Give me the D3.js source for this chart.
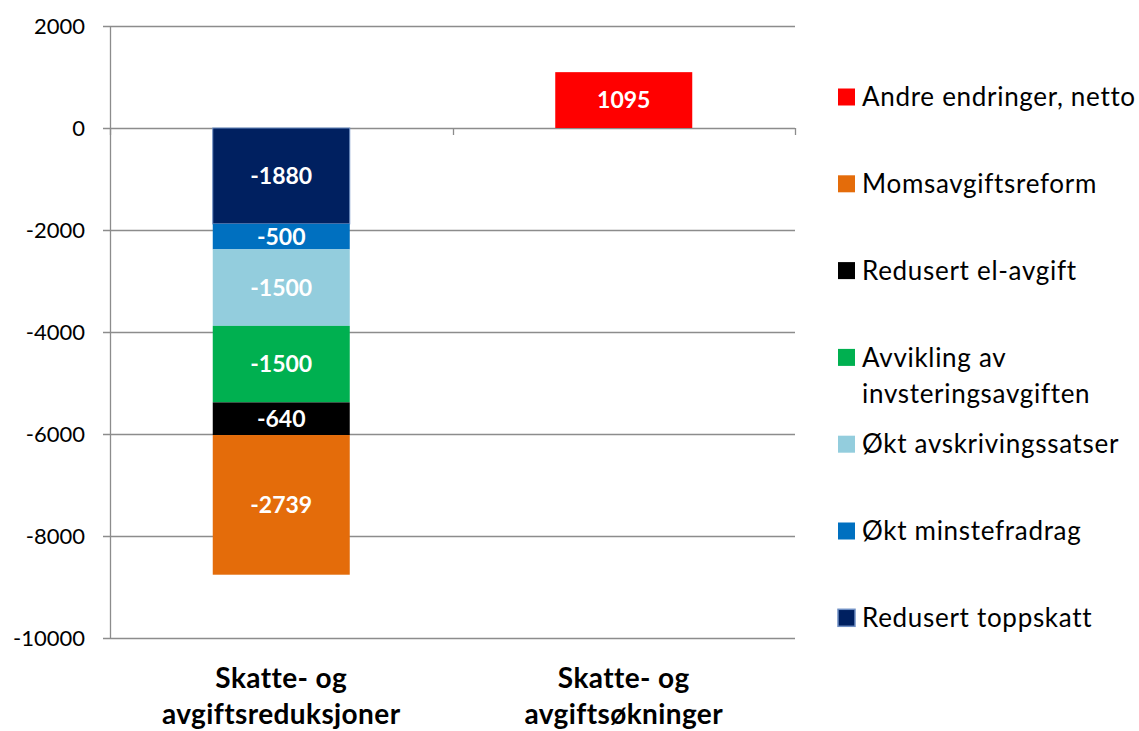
<!DOCTYPE html>
<html>
<head>
<meta charset="utf-8">
<script src="https://cdn.jsdelivr.net/npm/d3@7"></script>
<style>
  body { margin: 0; background: #fff; }
  svg { font-family: Lato, "Open Sans", sans-serif; }
</style>
</head>
<body>
<main></main>
<script>
// categories on the x axis
const categories = ["Skatte- og|avgiftsreduksjoner", "Skatte- og|avgiftsøkninger"];

// series, stacked from zero outward (first = closest to zero)
const seriesNames = [
  "Redusert toppskatt",
  "Økt minstefradrag",
  "Økt avskrivingssatser",
  "Avvikling av|invsteringsavgiften",
  "Redusert el-avgift",
  "Momsavgiftsreform",
  "Andre endringer, netto"
];
const seriesColors = ["#002060", "#0070C0", "#93CDDD", "#00B050", "#000000", "#E46C0A", "#FF0000"];

// values per series: [reduksjoner, økninger]
const values = [
  [-1880, 0],
  [-500, 0],
  [-1500, 0],
  [-1500, 0],
  [-640, 0],
  [-2739, 0],
  [0, 1095]
];

const yTicks = [2000, 0, -2000, -4000, -6000, -8000, -10000];

const width = 1139, height = 731;
const plot = { left: 110, right: 795, top: 26, bottom: 638 };

// build table for d3.stack
const table = categories.map((c, i) => {
  const row = { cat: c };
  seriesNames.forEach((s, j) => (row[s] = values[j][i]));
  return row;
});

const stacked = d3
  .stack()
  .keys(seriesNames)
  .offset(d3.stackOffsetDiverging)(table);

const svg = d3
  .select("main")
  .append("svg")
  .attr("width", width)
  .attr("height", height);

const yScale = d3.scaleLinear().domain([-10000, 2000]).range([plot.bottom, plot.top]);
const xScale = d3
  .scaleBand()
  .domain(categories)
  .range([plot.left, plot.right])
  .paddingInner(0.6)
  .paddingOuter(0.3);

// gridlines
svg
  .append("g")
  .selectAll("line")
  .data(yTicks)
  .enter()
  .append("line")
  .attr("x1", plot.left - 7)
  .attr("x2", plot.right)
  .attr("y1", d => Math.round(yScale(d)) + 0.5)
  .attr("y2", d => Math.round(yScale(d)) + 0.5)
  .style("stroke", "#8c8c8c")
  .style("stroke-width", 1.3);

// y axis line
svg
  .append("line")
  .attr("x1", plot.left + 0.5)
  .attr("x2", plot.left + 0.5)
  .attr("y1", yScale(2000))
  .attr("y2", yScale(-10000))
  .style("stroke", "#8c8c8c")
  .style("stroke-width", 1.3);

// y tick labels
svg
  .append("g")
  .selectAll("text")
  .data(yTicks)
  .enter()
  .append("text")
  .attr("x", 85)
  .attr("y", d => yScale(d))
  .attr("dy", "0.35em")
  .attr("text-anchor", "end")
  .style("font-size", "22px")
  .style("fill", "#000")
  .text(d => d3.format("d")(d).replace("−", "-"));

// category tick marks on the zero line
const catEdges = [plot.left, plot.left + (plot.right - plot.left) / 2, plot.right];
svg
  .append("g")
  .selectAll("line")
  .data(catEdges)
  .enter()
  .append("line")
  .attr("x1", d => Math.round(d) + 0.5)
  .attr("x2", d => Math.round(d) + 0.5)
  .attr("y1", yScale(0))
  .attr("y2", yScale(0) + 7)
  .style("stroke", "#8c8c8c")
  .style("stroke-width", 1.3);

// bars
const groups = svg
  .append("g")
  .selectAll("g")
  .data(stacked)
  .enter()
  .append("g")
  .style("fill", (d, i) => seriesColors[i]);

groups
  .selectAll("rect")
  .data(d => d.filter(p => p[1] - p[0] !== 0).map(p => ({ p, key: d.key, idx: d.index })))
  .enter()
  .append("rect")
  .attr("x", d => xScale(d.p.data.cat))
  .attr("width", xScale.bandwidth())
  .attr("y", d => yScale(d.p[1]))
  .attr("height", d => yScale(d.p[0]) - yScale(d.p[1]))
  .style("stroke", d => (d.idx === 0 ? "#6f8fc4" : "none"))
  .style("stroke-width", 1);

// data labels
groups
  .selectAll("text")
  .data(d => d.filter(p => p[1] - p[0] !== 0).map(p => ({ p, key: d.key, idx: d.index })))
  .enter()
  .append("text")
  .attr("x", d => xScale(d.p.data.cat) + xScale.bandwidth() / 2)
  .attr("y", d => (yScale(d.p[0]) + yScale(d.p[1])) / 2)
  .attr("dy", "0.36em")
  .attr("text-anchor", "middle")
  .style("fill", "#fff")
  .style("font-weight", "bold")
  .style("font-size", "23px")
  .text(d => {
    const v = d.p[1] - d.p[0];
    return d.p[0] < 0 || d.p[1] <= 0 ? "-" + Math.abs(v) : String(v);
  });

// category labels
const catLabels = svg
  .append("g")
  .selectAll("text")
  .data(categories)
  .enter()
  .append("text")
  .attr("text-anchor", "middle")
  .style("font-weight", "bold")
  .style("font-size", "28px")
  .style("letter-spacing", "0.4px")
  .style("fill", "#000");
catLabels
  .selectAll("tspan")
  .data(d => d.split("|").map(t => ({ t, c: d })))
  .enter()
  .append("tspan")
  .attr("x", d => xScale(d.c) + xScale.bandwidth() / 2)
  .attr("y", (d, i) => 688 + i * 36)
  .text(d => d.t);

// legend (reverse of stacking order)
const legendOrder = seriesNames.map((s, i) => i).reverse();
const legend = svg
  .append("g")
  .selectAll("g")
  .data(legendOrder)
  .enter()
  .append("g")
  .attr("transform", (d, i) => `translate(838, ${97 + i * 86.8})`);

legend
  .append("rect")
  .attr("x", 0)
  .attr("y", -8.5)
  .attr("width", 17)
  .attr("height", 17)
  .style("fill", d => seriesColors[d])
  .style("stroke", d => (d === 0 ? "#6f8fc4" : "none"))
  .style("stroke-width", 1.5);

legend
  .append("text")
  .style("font-size", "26px")
  .style("letter-spacing", "0.7px")
  .style("fill", "#000")
  .selectAll("tspan")
  .data(d => seriesNames[d].split("|"))
  .enter()
  .append("tspan")
  .attr("x", 24)
  .attr("y", (d, i) => i * 37)
  .attr("dy", "0.35em")
  .text(d => d);
</script>
</body>
</html>
